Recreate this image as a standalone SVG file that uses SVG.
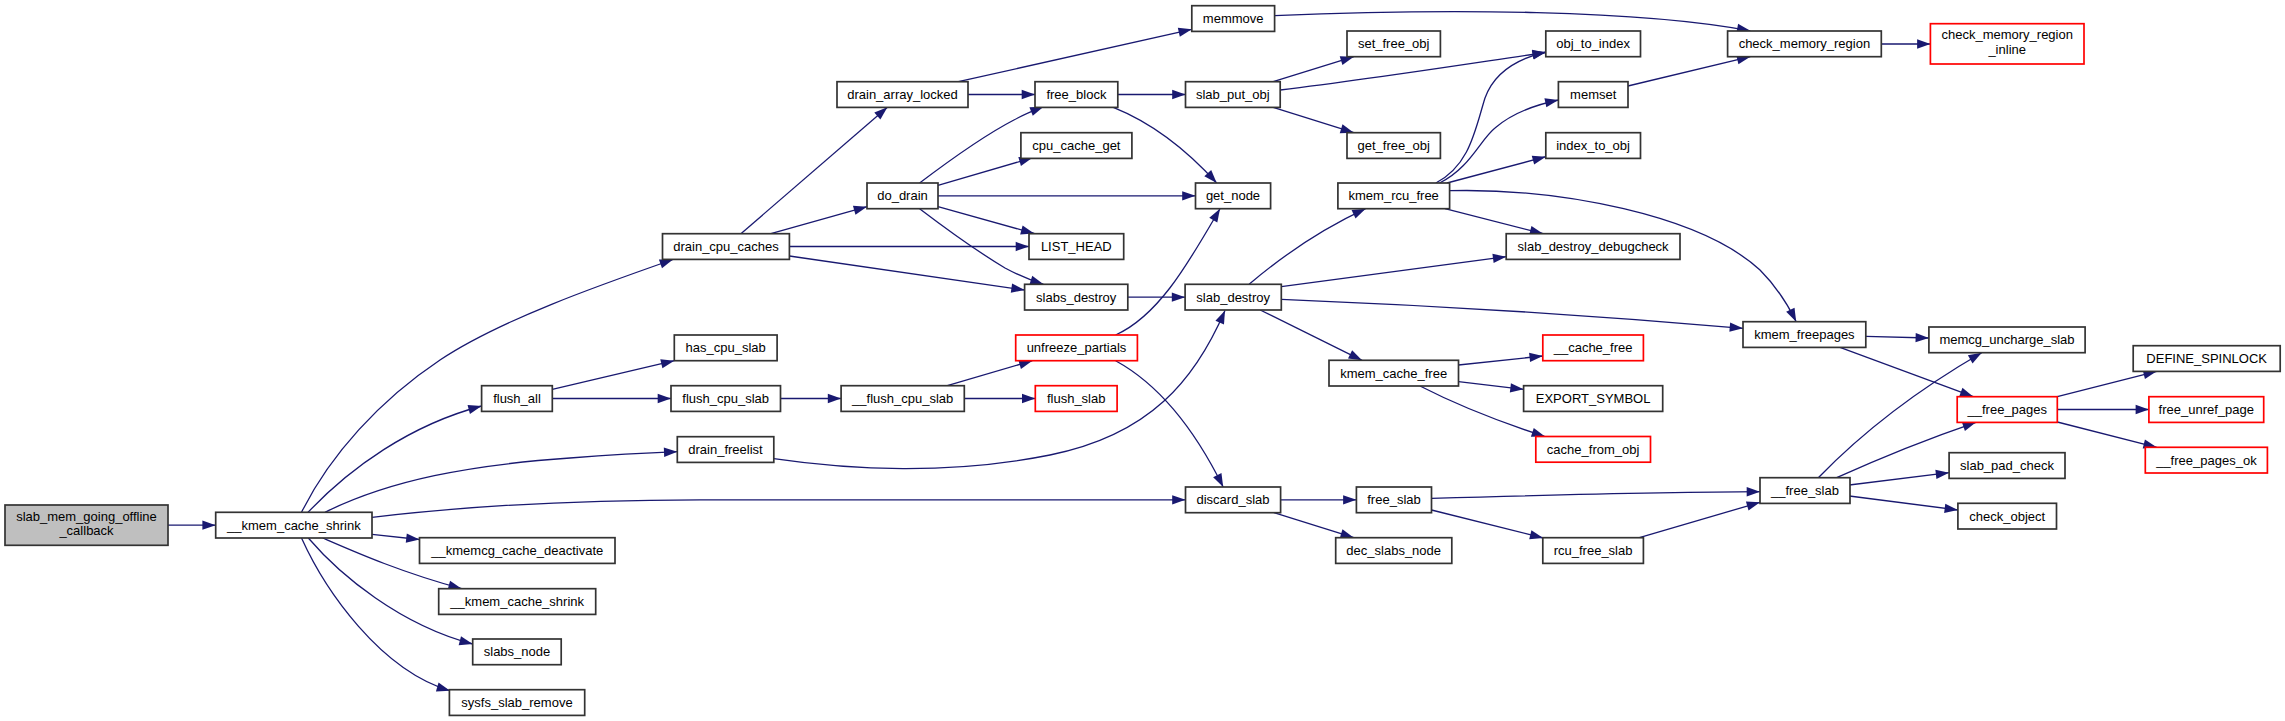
<svg xmlns="http://www.w3.org/2000/svg" width="2285" height="721" viewBox="0 0 2285 721">
<style>
.n rect{fill:#fff;stroke:#333;stroke-width:1.7}
.r rect{stroke:#ff0000}
.root rect{fill:#bfbfbf}
text{font-family:"Liberation Sans",Arial,Helvetica,sans-serif;font-size:13px;text-anchor:middle;fill:#000}
.e path{fill:none;stroke:#191970;stroke-width:1.3;marker-end:url(#a)}
</style>
<defs>
<marker id="a" markerUnits="userSpaceOnUse" markerWidth="14" markerHeight="10" refX="13.3" refY="4.65" orient="auto" overflow="visible">
<path d="M0,0L13.3,4.65L0,9.3z" fill="#191970"/>
</marker>
</defs>
<rect width="2285" height="721" fill="#fff"/>
<g id="edges" class="e">
<path d="M168,525.2H215.7"/>
<path d="M301.5,512.3C330,455 380,400 440,360C500,320 600,285 673,259.5"/>
<path d="M308,512.3C350,468 410,425 481.6,406"/>
<path d="M325,512.3C390,480 470,465 570,458C610,455 645,453 677.3,451.7"/>
<path d="M372,517.3C450,508 560,500 700,499.8L1185.5,499.8"/>
<path d="M372,534.3L419.5,539.5"/>
<path d="M322.7,538C355,552 400,572 461.7,588.7"/>
<path d="M308.3,538C340,575 400,625 472.7,644"/>
<path d="M301.5,538C325,590 380,670 450,690.7"/>
<path d="M740.9,233.7L887.4,107.3"/>
<path d="M770.9,233.7L867,206.7"/>
<path d="M789.4,246.5H1029"/>
<path d="M789.4,256L1024.6,290"/>
<path d="M958.4,81.7L1191.8,29.3"/>
<path d="M968,94.5H1035"/>
<path d="M919.6,183C950,160 985,135 1013.9,120C1025,114 1035,110 1043.5,106.7"/>
<path d="M938,185.3L1032.4,157.8"/>
<path d="M938,195.8H1195.5"/>
<path d="M938,206.7L1034.2,233.5"/>
<path d="M919.6,208.7C945,228 975,250 1005,268C1018,275 1030,280 1043.5,284.3"/>
<path d="M1117.8,94.5H1185.5"/>
<path d="M1113.3,107.3C1150,122 1185,148 1216.7,183"/>
<path d="M1127.8,297.2H1185.1"/>
<path d="M1115.6,335C1160,315 1190,260 1220,208.7"/>
<path d="M1115.6,360.7C1160,385 1195,430 1223.2,487"/>
<path d="M1273.2,81.7L1353.8,56.7"/>
<path d="M1280.2,90C1380,78 1480,62 1545.8,52.5"/>
<path d="M1273.2,107.3L1353.8,132.7"/>
<path d="M1249.1,284.3C1280,258 1320,230 1365.6,208.7"/>
<path d="M1281.3,286.7L1506.2,256.7"/>
<path d="M1281.3,299.3C1450,306 1600,316 1743,328.3"/>
<path d="M1260.2,310L1362,360.3"/>
<path d="M1435.9,183C1470,165 1475,130 1485,98C1495,70 1520,58 1545.8,52"/>
<path d="M1439.6,183C1470,168 1480,140 1495,128C1510,115 1530,106 1558.4,100"/>
<path d="M1447,183L1545.8,156.7"/>
<path d="M1449.6,190.7C1560,188 1700,215 1760,270C1775,285 1788,305 1796.2,321.7"/>
<path d="M1445,208.7L1543.2,233.7"/>
<path d="M1458.5,365L1542.8,356"/>
<path d="M1458.5,381.7L1523.6,389.3"/>
<path d="M1420,386C1455,404 1500,422 1545,436.5"/>
<path d="M1274.6,15.7C1450,8 1640,10 1750.3,30.8"/>
<path d="M1627.9,86L1750.3,56.7"/>
<path d="M1881.3,44H1930.4"/>
<path d="M1865.8,336.3L1928.9,338"/>
<path d="M1840,347.3L1973.3,396.7"/>
<path d="M1818.3,477.7C1850,445 1900,400 1981.7,352.7"/>
<path d="M1836.7,477.7C1880,458 1930,438 1976,422.3"/>
<path d="M1849.3,485L1949.1,472.7"/>
<path d="M1849.3,496L1957.9,510"/>
<path d="M2057.3,396.7L2156.7,371.3"/>
<path d="M2057.3,409.5H2148.9"/>
<path d="M2057.3,422L2156.7,447.3"/>
<path d="M1431.5,498.3C1550,495 1680,492 1760,491.7"/>
<path d="M1431.5,510L1543.2,538"/>
<path d="M1639.4,537.7L1760,502.3"/>
<path d="M1280.6,499.8H1356.4"/>
<path d="M1273.9,512.7L1353.8,537.7"/>
<path d="M552.3,389.3L674.3,360.7"/>
<path d="M552.3,398.5H671"/>
<path d="M780.5,398.5H841.1"/>
<path d="M947.3,385.7L1032.4,360.7"/>
<path d="M964.3,398.5H1035.3"/>
<path d="M773.8,458.7C850,470 950,475 1050,455C1150,435 1195,380 1225,310.5"/>
</g>
<g id="node-slab_mem_going_offline_callback" class="n root"><rect x="5" y="505" width="163" height="40.3"/><text x="86.5" y="520.7">slab_mem_going_offline</text><text x="86.5" y="535.4">_callback</text></g>
<g id="node-__kmem_cache_shrink" class="n"><rect x="215.7" y="512.3" width="156.3" height="25.7"/><text x="293.9" y="529.7">__kmem_cache_shrink</text></g>
<g id="node-drain_cpu_caches" class="n"><rect x="662.5" y="233.7" width="126.9" height="25.7"/><text x="726" y="251">drain_cpu_caches</text></g>
<g id="node-flush_all" class="n"><rect x="481.6" y="385.7" width="70.7" height="25.7"/><text x="517" y="403">flush_all</text></g>
<g id="node-drain_freelist" class="n"><rect x="677.3" y="436.7" width="96.5" height="25.7"/><text x="725.5" y="454">drain_freelist</text></g>
<g id="node-discard_slab" class="n"><rect x="1185.5" y="487" width="95.1" height="25.7"/><text x="1233" y="504.3">discard_slab</text></g>
<g id="node-__kmemcg_cache_deactivate" class="n"><rect x="419.5" y="537.7" width="195.5" height="25.7"/><text x="517.3" y="555">__kmemcg_cache_deactivate</text></g>
<g id="node-__kmem_cache_shrink_2" class="n"><rect x="438.7" y="588.7" width="157" height="25.7"/><text x="517.2" y="606">__kmem_cache_shrink</text></g>
<g id="node-slabs_node" class="n"><rect x="472.7" y="639" width="88.5" height="25.7"/><text x="517" y="656.3">slabs_node</text></g>
<g id="node-sysfs_slab_remove" class="n"><rect x="449.4" y="689.7" width="135.3" height="25.7"/><text x="517" y="707">sysfs_slab_remove</text></g>
<g id="node-drain_array_locked" class="n"><rect x="837" y="81.7" width="131" height="25.7"/><text x="902.5" y="99">drain_array_locked</text></g>
<g id="node-do_drain" class="n"><rect x="867" y="183" width="71" height="25.7"/><text x="902.5" y="200.3">do_drain</text></g>
<g id="node-LIST_HEAD" class="n"><rect x="1029" y="233.7" width="94.7" height="25.7"/><text x="1076.3" y="251">LIST_HEAD</text></g>
<g id="node-slabs_destroy" class="n"><rect x="1024.6" y="284.3" width="103.2" height="25.7"/><text x="1076.2" y="301.7">slabs_destroy</text></g>
<g id="node-free_block" class="n"><rect x="1035" y="81.7" width="82.8" height="25.7"/><text x="1076.4" y="99">free_block</text></g>
<g id="node-cpu_cache_get" class="n"><rect x="1020.9" y="132.7" width="111" height="25.7"/><text x="1076.4" y="150">cpu_cache_get</text></g>
<g id="node-get_node" class="n"><rect x="1195.5" y="183" width="75.1" height="25.7"/><text x="1233" y="200.3">get_node</text></g>
<g id="node-memmove" class="n"><rect x="1191.8" y="5.7" width="82.8" height="25.7"/><text x="1233.2" y="23">memmove</text></g>
<g id="node-slab_put_obj" class="n"><rect x="1185.5" y="81.7" width="94.7" height="25.7"/><text x="1232.8" y="99">slab_put_obj</text></g>
<g id="node-set_free_obj" class="n"><rect x="1347" y="31" width="93.4" height="25.7"/><text x="1393.7" y="48.3">set_free_obj</text></g>
<g id="node-get_free_obj" class="n"><rect x="1347" y="132.7" width="93.4" height="25.7"/><text x="1393.7" y="150">get_free_obj</text></g>
<g id="node-obj_to_index" class="n"><rect x="1545.8" y="31" width="94.7" height="25.7"/><text x="1593.1" y="48.3">obj_to_index</text></g>
<g id="node-memset" class="n"><rect x="1558.4" y="81.7" width="69.6" height="25.7"/><text x="1593.2" y="99">memset</text></g>
<g id="node-index_to_obj" class="n"><rect x="1545.8" y="132.7" width="94.7" height="25.7"/><text x="1593.1" y="150">index_to_obj</text></g>
<g id="node-kmem_rcu_free" class="n"><rect x="1337.9" y="183" width="111.7" height="25.7"/><text x="1393.7" y="200.3">kmem_rcu_free</text></g>
<g id="node-slab_destroy_debugcheck" class="n"><rect x="1506.2" y="233.7" width="173.8" height="25.7"/><text x="1593.1" y="251">slab_destroy_debugcheck</text></g>
<g id="node-slab_destroy" class="n"><rect x="1185.1" y="284.3" width="96.2" height="25.7"/><text x="1233.2" y="301.7">slab_destroy</text></g>
<g id="node-kmem_cache_free" class="n"><rect x="1329" y="360.3" width="129.5" height="25.7"/><text x="1393.7" y="377.7">kmem_cache_free</text></g>
<g id="node-__cache_free" class="n r"><rect x="1542.8" y="335" width="100.6" height="25.7"/><text x="1593.1" y="352.3">__cache_free</text></g>
<g id="node-EXPORT_SYMBOL" class="n"><rect x="1523.6" y="385.7" width="139.1" height="25.7"/><text x="1593.1" y="403">EXPORT_SYMBOL</text></g>
<g id="node-cache_from_obj" class="n r"><rect x="1535.8" y="436.5" width="114.7" height="25.7"/><text x="1593.1" y="453.8">cache_from_obj</text></g>
<g id="node-check_memory_region" class="n"><rect x="1727.6" y="31" width="153.7" height="25.7"/><text x="1804.4" y="48.3">check_memory_region</text></g>
<g id="node-check_memory_region_inline" class="n r"><rect x="1930.4" y="23.7" width="153.6" height="40.3"/><text x="2007.2" y="39.4">check_memory_region</text><text x="2007.2" y="54.1">_inline</text></g>
<g id="node-kmem_freepages" class="n"><rect x="1743" y="321.7" width="122.8" height="25.7"/><text x="1804.4" y="339">kmem_freepages</text></g>
<g id="node-memcg_uncharge_slab" class="n"><rect x="1928.9" y="327" width="156.2" height="25.7"/><text x="2007" y="344.3">memcg_uncharge_slab</text></g>
<g id="node-DEFINE_SPINLOCK" class="n"><rect x="2133.2" y="345.7" width="147" height="25.7"/><text x="2206.7" y="363">DEFINE_SPINLOCK</text></g>
<g id="node-__free_pages" class="n r"><rect x="1957.2" y="396.7" width="100.1" height="25.7"/><text x="2007.3" y="414">__free_pages</text></g>
<g id="node-free_unref_page" class="n r"><rect x="2148.9" y="396.7" width="114.8" height="25.7"/><text x="2206.3" y="414">free_unref_page</text></g>
<g id="node-__free_pages_ok" class="n r"><rect x="2145.3" y="447.3" width="122.1" height="25.7"/><text x="2206.4" y="464.6">__free_pages_ok</text></g>
<g id="node-slab_pad_check" class="n"><rect x="1949.1" y="452.7" width="115.9" height="25.7"/><text x="2007" y="470">slab_pad_check</text></g>
<g id="node-__free_slab" class="n"><rect x="1760" y="477.7" width="90" height="25.7"/><text x="1805" y="495">__free_slab</text></g>
<g id="node-check_object" class="n"><rect x="1957.9" y="503.3" width="98.6" height="25.7"/><text x="2007.2" y="520.6">check_object</text></g>
<g id="node-has_cpu_slab" class="n"><rect x="674.3" y="335" width="102.8" height="25.7"/><text x="725.7" y="352.3">has_cpu_slab</text></g>
<g id="node-unfreeze_partials" class="n r"><rect x="1015.7" y="335" width="121.7" height="25.7"/><text x="1076.5" y="352.3">unfreeze_partials</text></g>
<g id="node-flush_cpu_slab" class="n"><rect x="671" y="385.7" width="109.5" height="25.7"/><text x="725.7" y="403">flush_cpu_slab</text></g>
<g id="node-__flush_cpu_slab" class="n"><rect x="841.1" y="385.7" width="123.2" height="25.7"/><text x="902.7" y="403">__flush_cpu_slab</text></g>
<g id="node-flush_slab" class="n r"><rect x="1035.3" y="385.7" width="81.8" height="25.7"/><text x="1076.2" y="403">flush_slab</text></g>
<g id="node-free_slab" class="n"><rect x="1356.4" y="487" width="75.1" height="25.7"/><text x="1394" y="504.3">free_slab</text></g>
<g id="node-dec_slabs_node" class="n"><rect x="1335.7" y="537.7" width="116.1" height="25.7"/><text x="1393.7" y="555">dec_slabs_node</text></g>
<g id="node-rcu_free_slab" class="n"><rect x="1542.8" y="537.7" width="100.6" height="25.7"/><text x="1593.1" y="555">rcu_free_slab</text></g>
</svg>
